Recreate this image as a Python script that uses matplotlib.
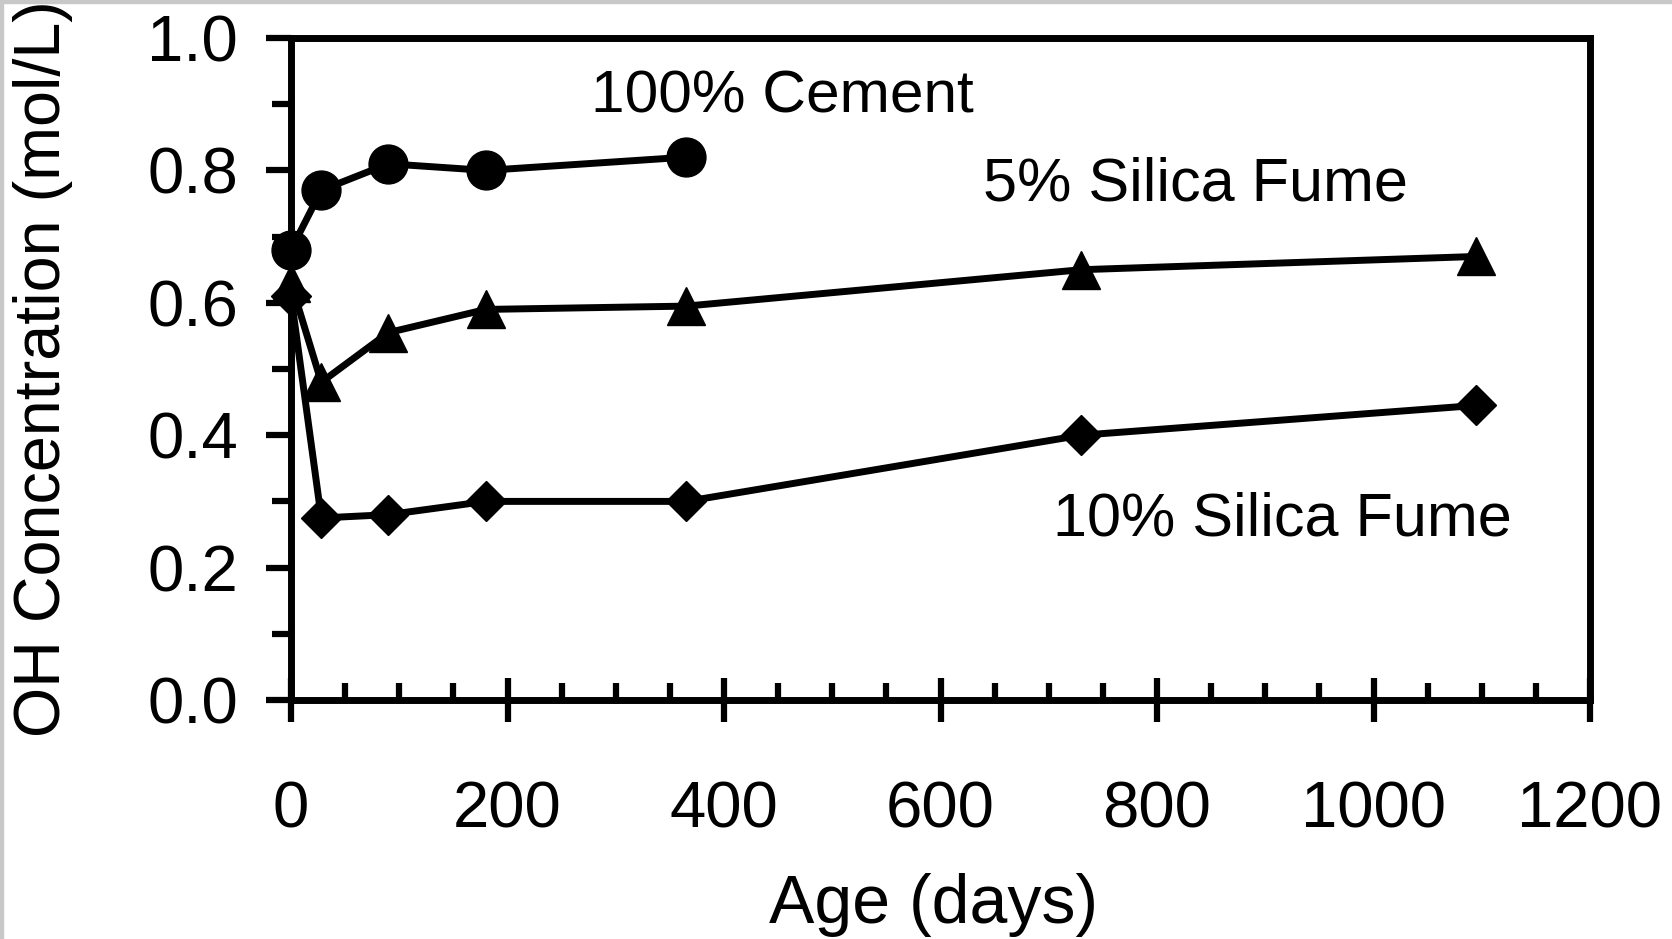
import matplotlib
matplotlib.use("Agg")
import matplotlib.pyplot as plt
from matplotlib.patches import Rectangle
from matplotlib.ticker import MultipleLocator

plt.rcParams['font.family'] = ['Liberation Sans', 'DejaVu Sans']

# ages (days) and OH concentration (mol/L)
age_cement = [0, 28, 90, 180, 365]
oh_cement = [0.68, 0.77, 0.81, 0.80, 0.82]

age_sf5 = [0, 28, 90, 180, 365, 730, 1095]
oh_sf5 = [0.63, 0.48, 0.555, 0.59, 0.595, 0.65, 0.67]

age_sf10 = [0, 28, 90, 180, 365, 730, 1095]
oh_sf10 = [0.61, 0.275, 0.28, 0.30, 0.30, 0.40, 0.445]

series_labels = ["100% Cement", "5% Silica Fume", "10% Silica Fume"]

W, H = 1672, 939
fig = plt.figure(figsize=(W / 100, H / 100), dpi=100)
ax = fig.add_axes([291 / W, 1 - 700 / H, 1299 / W, 662 / H])

lw = 5
ax.plot(age_sf10, oh_sf10, color='black', lw=lw, marker='D', ms=20,
        mfc='black', mec='black', clip_on=False, zorder=3)
ax.plot(age_sf5, oh_sf5, color='black', lw=lw, marker='^', ms=27,
        mfc='black', mec='black', clip_on=False, zorder=4)
ax.plot(age_cement, oh_cement, color='black', lw=lw, marker='o', ms=28,
        mfc='black', mec='black', clip_on=False, zorder=5)

ax.set_xlim(0, 1200)
ax.set_ylim(0, 1.0)

ax.xaxis.set_major_locator(MultipleLocator(200))
ax.xaxis.set_minor_locator(MultipleLocator(50))
ax.yaxis.set_minor_locator(MultipleLocator(0.1))
ax.set_yticks([0, 0.2, 0.4, 0.6, 0.8, 1.0])
ax.set_yticklabels(["0.0", "0.2", "0.4", "0.6", "0.8", "1.0"])

for s in ax.spines.values():
    s.set_linewidth(5)

ax.tick_params(axis='x', which='major', direction='inout', length=32,
               width=4.5, labelsize=47, pad=42)
ax.tick_params(axis='x', which='minor', direction='in', length=12, width=4.5)
ax.tick_params(axis='y', which='major', direction='out', length=18,
               width=4.5, labelsize=47, pad=20)
ax.tick_params(axis='y', which='minor', direction='out', length=14, width=4.5)

# series labels
ax.text(0.378, 0.888, series_labels[0], transform=ax.transAxes,
        ha='center', va='baseline', fontsize=43.5)
ax.text(0.696, 0.755, series_labels[1], transform=ax.transAxes,
        ha='center', va='baseline', fontsize=44)
ax.text(0.763, 0.248, series_labels[2], transform=ax.transAxes,
        ha='center', va='baseline', fontsize=44)

fig.text(934 / W, 1 - 923 / H, "Age (days)", ha='center', va='baseline',
         fontsize=49)
fig.text(43 / W, 1 - 369 / H, "OH Concentration (mol/L)", rotation=90,
         ha='center', va='center', fontsize=46.5)

# thin grey frame on top and left edge
fig.patches.append(Rectangle((0, 0), 3 / W, 1, transform=fig.transFigure,
                             color='#c8c8c8', zorder=0))
fig.patches.append(Rectangle((0, 1 - 3 / H), 1, 3 / H, transform=fig.transFigure,
                             color='#c8c8c8', zorder=0))

fig.savefig("out.png", dpi=100)
